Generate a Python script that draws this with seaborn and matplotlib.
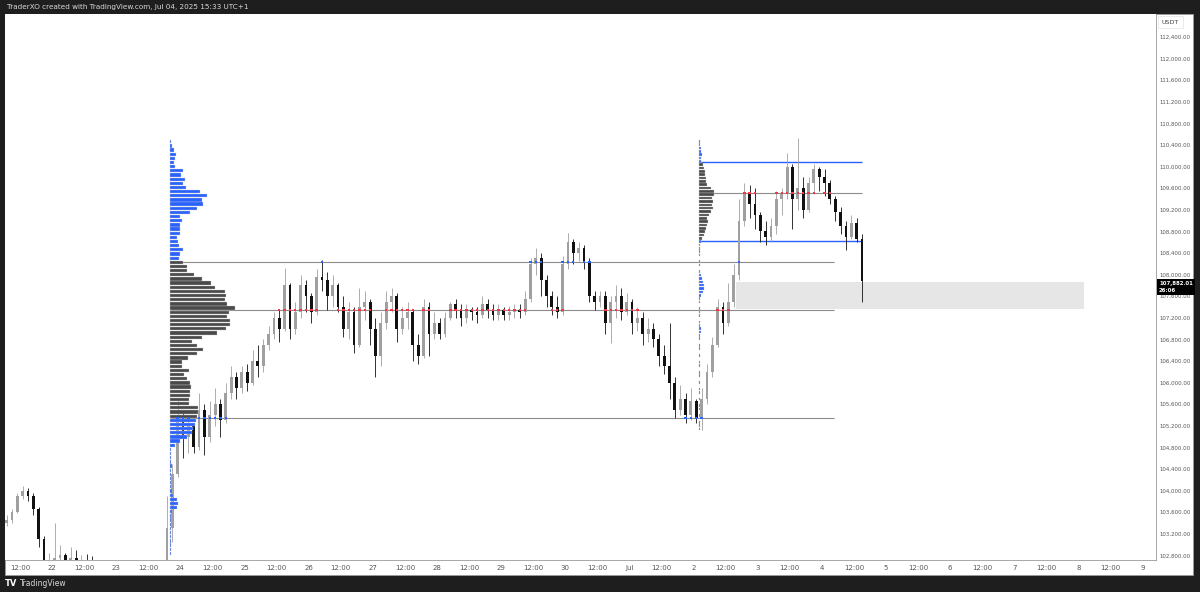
import numpy as np
import pandas as pd
import seaborn as sns
import matplotlib.pyplot as plt
import matplotlib.transforms as mtransforms
from matplotlib.patches import Rectangle

# ---------------- data (BTCUSDT, 2h candles from Jun 21 06:00, UTC+1) ----------------
first_open = 103400
closes = [103450, 103600, 103900, 104000, 103900, 103650, 103100, 102600, 102700, 102750,
          102800, 102600, 102750, 102650, 102700, 102650, 102500, 102200, 101600, 101200,
          101000, 100500, 99800, 99100, 99500, 100300, 100900, 101300, 101500, 101800,
          103300, 104300, 105300, 105000, 105200, 104800, 105500, 105000, 105400, 105600,
          105300, 105800, 106100, 105900, 106200, 106000, 106400, 106300, 106700, 106900,
          107200, 107000, 107800, 107000, 107300, 107800, 107600, 107300, 107950, 107900,
          107600, 107800, 107400, 107000, 107300, 106700, 107400, 107500, 107000, 106500,
          107100, 107500, 107600, 107000, 107200, 107300, 106700, 106500, 107400, 106900,
          107100, 106900, 107200, 107450, 107350, 107200, 107350, 107300, 107250, 107450,
          107350, 107250, 107350, 107250, 107300, 107350, 107300, 107550, 108200, 108300,
          107900, 107600, 107400, 107300, 108200, 108600, 108400, 108500, 108250, 107600,
          107500, 107600, 107100, 107500, 107600, 107300, 107500, 107100, 107200, 106900,
          107000, 106800, 106500, 106300, 106000, 105500, 105700, 105400, 105650, 105350,
          105700, 106200, 106700, 107400, 107100, 107500, 108000, 109000, 109500, 109300,
          109100, 108800, 108700, 108900, 109400, 109500, 110000, 109400, 109600, 109200,
          109700, 109950, 109800, 109700, 109400, 109150, 108900, 108700, 108950, 108650,
          107882.01]
highs = [103550, 103650, 103950, 104080, 104050, 103950, 103700, 103150, 102850, 103400,
         103000, 102850, 102950, 102900, 102800, 102820, 102780, 102550, 102250, 101700,
         101400, 101100, 100600, 100000, 99800, 100500, 101200, 101600, 101900, 102100,
         103900, 104500, 105700, 105500, 105400, 105250, 105800, 105600, 105650, 105900,
         105700, 106000, 106300, 106200, 106300, 106350, 106600, 106700, 106800, 107050,
         107300, 107350, 108120, 107850, 107500, 108000, 107900, 107650, 108100, 108270,
         108050, 108000, 107850, 107600, 107500, 107400, 107750, 107700, 107550, 107200,
         107300, 107700, 107750, 107650, 107400, 107500, 107350, 106900, 107550, 107500,
         107300, 107200, 107300, 107500, 107550, 107450, 107450, 107400, 107400, 107600,
         107550, 107450, 107450, 107400, 107420, 107450, 107450, 107700, 108300, 108500,
         108400, 108000, 107700, 107600, 108350, 108770, 108650, 108600, 108550, 108300,
         107700, 107700, 107700, 107600, 107800, 107750, 107650, 107550, 107400, 107300,
         107200, 107100, 106900, 106700, 107100, 106100, 105950, 105800, 105900, 105700,
         105900, 106350, 106850, 107550, 107500, 107850, 108200, 109400, 109700, 109650,
         109600, 109150, 109000, 109050, 109550, 109600, 110250, 110050, 110530, 109800,
         109800, 110050, 110000, 109950, 109750, 109450, 109250, 109000, 109100, 109050,
         108750]
lows = [103350, 103400, 103580, 103850, 103800, 103550, 102950, 102400, 102500, 102600,
        102600, 102450, 102550, 102500, 102550, 102450, 102300, 101900, 101400, 100900,
        100600, 100200, 99400, 98800, 98300, 99300, 100100, 100700, 101100, 101300,
        101700, 103050, 104250, 104600, 104700, 104700, 104750, 104650, 104900, 105200,
        105000, 105250, 105700, 105700, 105800, 105850, 105950, 106100, 106200, 106600,
        106800, 106750, 106950, 106800, 106900, 107200, 107300, 107100, 107250, 107700,
        107350, 107400, 107300, 106850, 106800, 106550, 106650, 107150, 106700, 106100,
        106300, 107000, 107300, 106750, 106900, 107000, 106400, 106350, 106450, 106500,
        106800, 106800, 106850, 107150, 107200, 107050, 107100, 107150, 107100, 107200,
        107200, 107150, 107150, 107150, 107150, 107200, 107200, 107250, 107500, 108000,
        107600, 107400, 107250, 107200, 107250, 108100, 108200, 108250, 108100, 107500,
        107350, 107400, 106900, 106730, 107200, 107150, 107250, 106900, 106950, 106700,
        106750, 106650, 106300, 106150, 105700, 105350, 105400, 105250, 105300, 105250,
        105120, 105600, 106100, 106650, 106900, 107050, 107400, 107900, 108900, 109050,
        108850, 108600, 108550, 108600, 108750, 109100, 109400, 108850, 109200, 109050,
        109150, 109500, 109550, 109450, 109300, 109000, 108750, 108450, 108650, 108600,
        107490]

# volume profile 1 (Jun 23 20:00 -> Jul 2 02:00), rows of 77 USDT from the top
vp1_top = 110460
vp1_step = 77
vp1_vol = [1, 2, 4, 6, 5, 4, 5, 13, 11, 15, 13, 16, 30, 37, 32, 33, 27, 20, 10, 12,
           10, 10, 10, 7, 8, 9, 13, 10, 9,
           13, 17, 17, 24, 32, 41, 45, 55, 56, 55, 57, 65, 59, 57, 60, 60, 56, 47, 32, 22,
           27, 33, 27, 18, 12, 12, 19, 14, 17, 20, 21, 20, 20, 19, 19, 28, 28,
           27, 26, 25, 23, 22, 17, 10, 5, 1,
           1, 1, 1, 2, 1, 1, 1, 1, 1, 2, 3, 7, 8, 7, 2, 1, 1, 1, 1, 1, 1, 1, 1, 1, 1]
vp1_poc, vp1_vah, vp1_val = 107344, 108233, 105344

# volume profile 2 (Jul 2 02:00 -> now), rows of 62 USDT
vp2_top = 110470
vp2_step = 62
vp2_vol = [1, 1, 2, 2, 3, 2, 2,
           4, 5, 6, 6, 7, 7, 8, 12, 15, 15, 13, 14, 13, 14, 12, 10, 8, 9, 8, 7, 6, 5, 3,
           2, 1, 1, 1, 1, 0, 1, 1, 0, 1, 2, 3, 4, 5, 5, 4, 2,
           1, 1, 0, 1, 1, 1, 0, 1, 1, 2, 2, 1,
           1, 0, 1, 1, 0, 1, 0, 1, 1, 0, 1, 1, 0, 1, 0, 1, 1, 0, 1, 0, 1, 1, 0, 1, 0, 1, 1, 1]
vp2_poc, vp2_vah, vp2_val = 109511, 110085, 108622

# gray zone
zone_low, zone_high = 107363, 107863

# ---------------- styling ----------------
sns.set_style('white')
plt.rcParams['font.family'] = ['DejaVu Sans']

UP = '#a0a0a0'
DOWN = '#111111'
BLUE = '#2962ff'
DARK = '#4a4a4a'
LINE = '#8c8c8c'

base = pd.Timestamp('2025-06-21 06:00')
t_vp1, t_end1 = 62, 310.5     # hours since base
t_vp2, t_end2 = 260, 321
t_zone0, t_zone1 = 274, 404
px_h = 0.375                  # hours per pixel of profile length

n = len(closes)
t = np.arange(n) * 2 + 1
opens = np.array([first_open] + closes[:-1], dtype=float)
closes_a = np.array(closes, dtype=float)
highs_a = np.array(highs, dtype=float)
lows_a = np.array(lows, dtype=float)
up = closes_a >= opens
cols = np.where(up, UP, DOWN)

fig = plt.figure(figsize=(12, 5.92), dpi=100, facecolor='#1e1e1e')
W, H = 1200, 592
fig.patches.append(Rectangle((5 / W, 1 - 575 / H), 1188 / W, 561 / H, transform=fig.transFigure,
                             facecolor='white', edgecolor='#9a9a9a', lw=0.6, zorder=-5))
ax = fig.add_axes([5 / W, 1 - 560 / H, 1151 / W, 546 / H])
ax.set_zorder(1)
ax.set_facecolor('white')

# zone
ax.add_patch(Rectangle((t_zone0, zone_low), t_zone1 - t_zone0, zone_high - zone_low,
                       facecolor='#e6e6e6', edgecolor='none', zorder=0.5))

# profile levels
ax.hlines([vp1_vah, vp1_poc, vp1_val], t_vp1, t_end1, colors=LINE, lw=0.8, zorder=1)
ax.hlines([vp2_poc], t_vp2, t_end2, colors=LINE, lw=0.8, zorder=1)
ax.hlines([vp2_vah, vp2_val], t_vp2, t_end2, colors=BLUE, lw=1.0, zorder=1)

# candles
ax.vlines(t, lows_a, highs_a, colors=cols, lw=0.6, zorder=2)
body_lo = np.minimum(opens, closes_a)
body_h = np.maximum(np.abs(closes_a - opens), 15)
ax.bar(t, body_h, bottom=body_lo, width=1.05, color=cols, linewidth=0, zorder=2.1)


def draw_profile(top, step, vol, start, vah, val):
    prices = top - np.arange(len(vol)) * step
    vol = np.array(vol, dtype=float)
    inside = (prices <= vah) & (prices >= val)
    c = np.where(inside, DARK, BLUE)
    keep = vol > 0
    ax.barh(prices[keep], vol[keep] * px_h, left=start, height=step * 0.78,
            color=c[keep], edgecolor='#c8c8c8', linewidth=0.25, zorder=3)


draw_profile(vp1_top, vp1_step, vp1_vol, t_vp1, vp1_vah, vp1_val)
draw_profile(vp2_top, vp2_step, vp2_vol, t_vp2, vp2_vah, vp2_val)

# touches of the levels
marks = []
for lvl, t0, t1, c in [(vp1_poc, t_vp1, t_end1, 'poc'), (vp1_vah, t_vp1, t_end1, 'va'),
                       (vp1_val, t_vp1, t_end1, 'va'), (vp2_poc, t_vp2, t_end2, 'poc')]:
    hit = (lows_a <= lvl) & (highs_a >= lvl) & (t >= t0) & (t <= t1)
    for ti in t[hit]:
        marks.append((ti, lvl, c))
mk = pd.DataFrame(marks, columns=['t', 'price', 'kind'])
sns.scatterplot(data=mk, x='t', y='price', hue='kind', palette={'poc': '#f23645', 'va': BLUE},
                marker='s', s=3, linewidth=0, legend=False, ax=ax, zorder=4)

# axes
ax.set_xlim(0.4, 431)
ax.set_ylim(102714, 112826)
ticks = pd.date_range('2025-06-21 12:00', '2025-07-09 00:00', freq='12h')
xpos = (ticks - base) / pd.Timedelta(hours=1)
xlab = ['12:00' if d.hour == 12 else ('Jul' if d.day == 1 else str(d.day)) for d in ticks]
ax.set_xticks(xpos)
ax.set_xticklabels(xlab)
yt = np.arange(102800, 112401, 400)
ax.set_yticks(yt)
ax.set_yticklabels([f'{v:,.2f}' for v in yt])
ax.yaxis.tick_right()
ax.tick_params(axis='x', length=0, pad=3.5, labelsize=5, labelcolor='#555555')
ax.tick_params(axis='y', length=0, pad=2.5, labelsize=3.9, labelcolor='#555555')
ax.set_xlabel('')
ax.set_ylabel('')
for s in ['top', 'left']:
    ax.spines[s].set_visible(False)
for s in ['right', 'bottom']:
    ax.spines[s].set_color('#9a9a9a')
    ax.spines[s].set_linewidth(0.6)

# last price label
tr = mtransforms.blended_transform_factory(ax.transAxes, ax.transData)
tr = mtransforms.offset_copy(tr, fig=fig, x=3, y=-6, units='dots')
ax.text(1.0, closes[-1], f'{closes[-1]:,.2f}\n26:06', transform=tr, ha='left', va='center',
        fontsize=3.9, color='white', linespacing=1.4, fontweight='bold',
        bbox=dict(boxstyle='square,pad=0.4', facecolor='black', edgecolor='none'), zorder=10,
        clip_on=False)

fig.text(1162 / W, 1 - 22 / H, 'USDT', fontsize=4.6, color='#444444', va='center', ha='left',
         bbox=dict(boxstyle='square,pad=0.6', facecolor='white', edgecolor='#e3e3e3', lw=0.5))
fig.text(7 / W, 1 - 7 / H, 'TraderXO created with TradingView.com, Jul 04, 2025 15:33 UTC+1',
         fontsize=5.2, color='#d9d9d9', va='center', ha='left')
fig.text(5 / W, 1 - 583 / H, 'TV', fontsize=6, color='white', fontweight='bold', va='center')
fig.text(20 / W, 1 - 583 / H, 'TradingView', fontsize=5.5, color='#d9d9d9', va='center')

fig.savefig('out.png', dpi=100, facecolor=fig.get_facecolor())
